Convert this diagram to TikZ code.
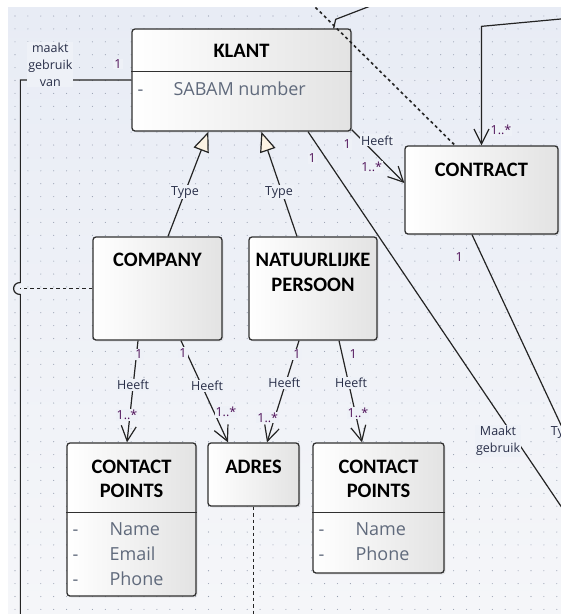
\documentclass[tikz,border=0pt]{standalone}
\usepackage{fontspec}
\usetikzlibrary{calc,arrows.meta,shadows}

\newfontfamily\boxfont{Carlito}
\newfontfamily\labelfont{Open Sans}

\definecolor{bgtop}{RGB}{232,236,245}
\definecolor{bgbottom}{RGB}{245,246,249}
\definecolor{labfill}{RGB}{238,241,247}
\definecolor{gridcol}{RGB}{150,158,176}
\definecolor{boxline}{RGB}{48,48,48}
\definecolor{conncol}{RGB}{36,36,36}
\definecolor{attrcol}{RGB}{96,106,124}
\definecolor{labcol}{RGB}{40,46,72}
\definecolor{multcol}{RGB}{78,16,88}
\definecolor{cream}{RGB}{252,243,228}

\tikzset{
	umlbox/.style={draw=boxline, line width=1.3pt, rounded corners=3pt, left color=white, right color=black!11, inner sep=0pt, drop shadow={opacity=0.15, shadow xshift=1.5pt, shadow yshift=-1.5pt}},
	boxtitle/.style={font=\boxfont\bfseries\fontsize{20.5}{24}\selectfont, inner sep=0pt, anchor=base},
	attrib/.style={font=\labelfont\fontsize{18}{25}\selectfont, text=attrcol, inner sep=0pt, anchor=base west},
	lab/.style={font=\labelfont\fontsize{12.5}{17}\selectfont, text=labcol, fill=labfill, inner sep=1pt, align=center},
	mult/.style={lab, text=multcol},
	divider/.style={draw=boxline, line width=1.3pt},
	conn/.style={draw=conncol, line width=1.2pt},
	heeft/.style={conn, -{Straight Barb[length=15pt, width=15pt]}},
	isa/.style={conn, -{Triangle[open, length=20pt, width=16pt, fill=cream]}},
	dashconn/.style={conn, line width=1.3pt, dash pattern=on 3.5pt off 3pt},
	dotconn/.style={conn, line width=1.6pt, dash pattern=on 3pt off 3pt}
}

\begin{document}
\begin{tikzpicture}[x=1pt,y=-1pt]
\useasboundingbox (0,0) rectangle (561,614);
\fill[white] (0,0) rectangle (561,614);
\begin{scope}
\clip (8,7) rectangle (561,614);
\shade[top color=bgtop, bottom color=bgbottom] (8,7) rectangle (561,614);

%grid
\foreach \i in {0,...,42}{
	\foreach \j in {0,...,46}{
		\fill[gridcol] (15+12.9*\i,16+12.9*\j) circle (0.55pt);
	}
}

%boxes
\node[umlbox, minimum width=219pt, minimum height=102pt] (klant) at (241.5,80) {};
\node[umlbox, minimum width=153pt, minimum height=88pt] (contract) at (481.5,190) {};
\node[umlbox, minimum width=129pt, minimum height=103pt] (company) at (157.5,288.5) {};
\node[umlbox, minimum width=128pt, minimum height=103pt] (natuur) at (313,288.5) {};
\node[umlbox, minimum width=129pt, minimum height=153pt] (cpleft) at (131.5,519.5) {};
\node[umlbox, minimum width=91pt, minimum height=63pt] (adres) at (253.5,474.5) {};
\node[umlbox, minimum width=131pt, minimum height=130pt] (cpright) at (378.5,508) {};

%klant
\node[boxtitle] (klanttitle) at ($(klant.north)+(0,29)$) {KLANT};
\draw[divider] ($(klant.north west)+(0,43)$) -- ($(klant.north east)+(0,43)$);
\node[attrib] (klantdash) at ($(klant.north west)+(6,67)$) {-};
\node[attrib] (klantattr) at ($(klant.north west)+(42,67)$) {SABAM number};

%contract
\node[boxtitle] (contracttitle) at ($(contract.north)+(0,31)$) {CONTRACT};

%company
\node[boxtitle] (companytitle) at ($(company.north)+(0,30)$) {COMPANY};

%natuurlijke persoon
\node[boxtitle] (natuurtitle) at ($(natuur.north)+(0,30)$) {NATUURLIJKE};
\node[boxtitle] (natuurtitleb) at ($(natuur.north)+(0,55)$) {PERSOON};

%contact points links
\node[boxtitle] (cplefttitle) at ($(cpleft.north)+(0,31)$) {CONTACT};
\node[boxtitle] (cplefttitleb) at ($(cpleft.north)+(0,55)$) {POINTS};
\draw[divider] ($(cpleft.north west)+(0,70)$) -- ($(cpleft.north east)+(0,70)$);
\foreach \attr [count=\k] in {Name,Email,Phone}{
	\node[attrib] (cpleftdash\k) at ($(cpleft.north west)+(6,68+25*\k)$) {-};
	\node[attrib] (cpleftattr\k) at ($(cpleft.north west)+(43,68+25*\k)$) {\attr};
}

%adres
\node[boxtitle] (adrestitle) at ($(adres.north)+(0,31)$) {ADRES};

%contact points rechts
\node[boxtitle] (cprighttitle) at ($(cpright.north)+(0,31)$) {CONTACT};
\node[boxtitle] (cprighttitleb) at ($(cpright.north)+(0,55)$) {POINTS};
\draw[divider] ($(cpright.north west)+(0,70)$) -- ($(cpright.north east)+(0,70)$);
\foreach \attr [count=\k] in {Name,Phone}{
	\node[attrib] (cprightdash\k) at ($(cpright.north west)+(6,68+25*\k)$) {-};
	\node[attrib] (cprightattr\k) at ($(cpright.north west)+(43,68+25*\k)$) {\attr};
}

%free ends
\coordinate (leftbend) at ($(klant.west)+(-111,0)$);
\coordinate (hop) at (leftbend |- company.west);
\coordinate (leftend) at (21,620);
\coordinate (topdotend) at (307,-1);
\coordinate (topleftend) at (373,5);
\coordinate (toprightend) at (565,18.6);
\coordinate (rightend1) at (575,527);
\coordinate (rightend2) at (575,455);

%type
\draw[isa] ($(company.north)+(10.5,0)$) -- node[lab, pos=.42] (type1) {Type} ($(klant.south west)+(77,0)$);
\draw[isa] ($(natuur.north)+(-16,0)$) -- node[lab, pos=.42, xshift=-3pt] (type2) {Type} ($(klant.south west)+(130,0)$);

%heeft
\draw[heeft] ($(company.south)+(-19.5,0)$) -- node[mult, pos=.136, xshift=2.5pt] (m1a) {1} node[lab, pos=.437] (h1) {Heeft} node[mult, pos=.728, xshift=-3pt] (m1b) {1..*} ($(cpleft.north)+(-4.5,0)$);
\draw[heeft] ($(company.south)+(23.5,0)$) -- node[mult, pos=.117, xshift=-3.5pt] (m2a) {1} node[lab, pos=.447, xshift=5pt] (h2) {Heeft} node[mult, pos=.7, xshift=12pt] (m2b) {1..*} ($(adres.north)+(-25.5,0)$);
\draw[heeft] ($(natuur.south)+(-14,0)$) -- node[mult, pos=.136, xshift=2.4pt] (m3a) {1} node[lab, pos=.417, xshift=-1.4pt] (h3) {Heeft} node[mult, pos=.757, xshift=-7pt] (m3b) {1..*} ($(adres.north)+(13.5,0)$);
\draw[heeft] ($(natuur.south)+(26,0)$) -- node[mult, pos=.136, xshift=11pt] (m4a) {1} node[lab, pos=.417, xshift=2.4pt] (h4) {Heeft} node[mult, pos=.709, xshift=2.7pt] (m4b) {1..*} ($(cpright.north)+(-16.5,0)$);
\draw[heeft] ($(klant.south east)+(0,-2)$) -- node[mult, pos=.2, xshift=-15pt, yshift=-4pt] (m5a) {1} node[lab, pos=.2, xshift=15pt] (h5) {Heeft} node[mult, pos=.55, xshift=-9pt, yshift=-8pt] (m5b) {1..*} ($(contract.west)+(0,-7)$);
\draw[heeft] (toprightend) -- ($(contract.north)+(0,-119)$) -- node[mult, pos=.87, xshift=19.5pt] (m6) {1..*} (contract.north);

%top
\draw[conn] (topleftend) -- ($(klant.north east)+(-16,-9)$) -- ($(klant.north east)+(-18,0)$);
\draw[dotconn] (topdotend) -- ($(contract.north)+(-26.5,0)$);

%maakt gebruik
\draw[conn] ($(klant.south)+(66.5,0)$) -- node[mult, pos=.068, xshift=-14pt] (m7) {1} node[lab, pos=.783, xshift=-19pt] (mg) {Maakt\\gebruik} (rightend1);
\draw[conn] ($(contract.south)+(-9.5,0)$) -- node[mult, pos=.1, xshift=-23pt] (m8) {1} node[lab, pos=.9] (type3) {Type} (rightend2);
\draw[conn] (klant.west) -- node[mult, pos=.12, yshift=16pt] (m9) {1} node[lab, pos=.73, yshift=15.5pt] (mgv) {maakt\\gebruik\\van} (leftbend) -- ($(hop)+(0,-6)$) .. controls +(-9,0) and +(-9,0) .. ($(hop)+(0,6)$) -- (hop |- leftend);

%dashed
\draw[dashconn] (company.west) -- (hop);
\draw[dashconn] (adres.south) -- (adres.south |- leftend);

\end{scope}
\end{tikzpicture}
\end{document}
